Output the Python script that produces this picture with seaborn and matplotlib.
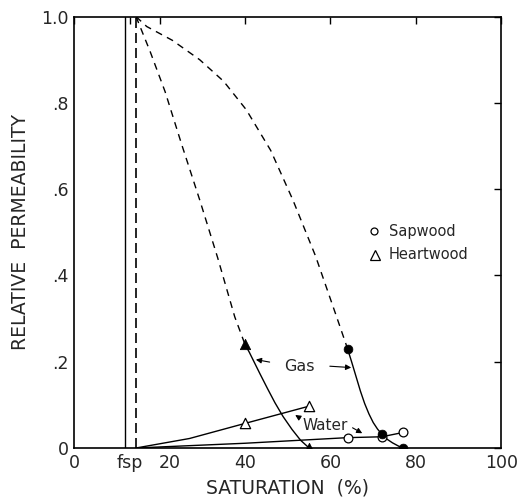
import matplotlib
matplotlib.use("Agg")
import matplotlib.pyplot as plt
import matplotlib.transforms as mtransforms
import seaborn as sns

# gas curves, dashed (extrapolated) part
gas_heart_dash_x = [14.5, 17.8, 21.3, 25.2, 29.4, 33.6, 37.6, 40.0]
gas_heart_dash_y = [1.0, 0.919, 0.826, 0.703, 0.575, 0.441, 0.304, 0.24]
gas_sap_dash_x = [14.5, 17.0, 23.0, 29.4, 35.0, 40.3, 46.0, 51.2, 56.5, 61.4, 64.0]
gas_sap_dash_y = [1.0, 0.977, 0.945, 0.90, 0.85, 0.784, 0.69, 0.575, 0.445, 0.305, 0.23]

# gas curves, measured part
gas_heart_x = [40.0, 41.0, 42.0, 43.5, 45.3, 47.0, 48.9, 51.0, 53.0, 55.0]
gas_heart_y = [0.24, 0.222, 0.202, 0.172, 0.137, 0.105, 0.073, 0.043, 0.018, 0.0]
gas_sap_x = [64.0, 65.0, 66.0, 67.0, 68.0, 69.0, 70.0, 71.0, 72.0, 73.0, 74.5, 76.0, 77.0]
gas_sap_y = [0.23, 0.198, 0.165, 0.132, 0.103, 0.079, 0.059, 0.044, 0.032, 0.022, 0.012, 0.004, 0.0]

# water curves
water_heart_x = [14.5, 27.0, 40.0, 55.0]
water_heart_y = [0.0, 0.022, 0.057, 0.097]
water_sap_x = [14.5, 40.0, 64.0, 72.0, 77.0]
water_sap_y = [0.0, 0.011, 0.024, 0.026, 0.036]

# measured points
gas_heart_pts_x = [40, 55]
gas_heart_pts_y = [0.24, 0.0]
gas_sap_pts_x = [64, 72, 77]
gas_sap_pts_y = [0.23, 0.032, 0.0]
water_heart_pts_x = [40, 55]
water_heart_pts_y = [0.057, 0.097]
water_sap_pts_x = [64, 72, 77]
water_sap_pts_y = [0.024, 0.026, 0.036]

fsp = 12.0
fsp_dash = 14.5

x_ticks = [0, 13, 20, 40, 60, 80, 100]
x_labels = ["0", "fsp", "20", "40", "60", "80", "100"]
y_ticks = [0, 0.2, 0.4, 0.6, 0.8, 1.0]
y_labels = ["0", ".2", ".4", ".6", ".8", "1.0"]

sns.set_style("white")
plt.rcParams["font.family"] = ["DejaVu Sans"]

fig = plt.figure(figsize=(5.18, 4.97), dpi=100)
ax = fig.add_axes([0.143, 0.0986, 0.825, 0.868])

lw = 1.0
dash = (0, (5, 4))
sns.lineplot(x=gas_heart_dash_x, y=gas_heart_dash_y, ax=ax, color="black",
             lw=lw, linestyle=dash, sort=False)
sns.lineplot(x=gas_sap_dash_x, y=gas_sap_dash_y, ax=ax, color="black",
             lw=lw, linestyle=dash, sort=False)
for xs, ys in [(gas_heart_x, gas_heart_y), (gas_sap_x, gas_sap_y),
               (water_heart_x, water_heart_y), (water_sap_x, water_sap_y)]:
    sns.lineplot(x=xs, y=ys, ax=ax, color="black", lw=lw, sort=False)

ax.plot([fsp, fsp], [0, 1], color="black", lw=lw)
ax.plot([fsp_dash, fsp_dash], [0, 1], color="black", lw=1.2, linestyle=(0, (6, 3)))

sns.scatterplot(x=gas_heart_pts_x, y=gas_heart_pts_y, ax=ax, marker="^", s=55,
                color="black", edgecolor="black", zorder=5)
sns.scatterplot(x=gas_sap_pts_x, y=gas_sap_pts_y, ax=ax, marker="o", s=40,
                color="black", edgecolor="black", zorder=5)
sns.scatterplot(x=water_heart_pts_x, y=water_heart_pts_y, ax=ax, marker="^", s=55,
                facecolor="white", edgecolor="black", linewidth=0.9, zorder=5)
sns.scatterplot(x=water_sap_pts_x, y=water_sap_pts_y, ax=ax, marker="o", s=40,
                facecolor="white", edgecolor="black", linewidth=0.9, zorder=4)

# legend drawn by hand
ax.plot([70.2], [0.502], marker="o", ms=5, mfc="white", mec="black", mew=0.9)
ax.plot([70.3], [0.448], marker="^", ms=6.5, mfc="white", mec="black", mew=0.9)
ax.text(73.6, 0.502, "Sapwood", fontsize=10.5, va="center", ha="left")
ax.text(73.6, 0.448, "Heartwood", fontsize=10.5, va="center", ha="left")

# annotations
ap = dict(arrowstyle="-|>", color="black", lw=0.8, mutation_scale=8)
ax.text(52.8, 0.188, "Gas", fontsize=11.5, ha="center", va="center")
ax.annotate("", xy=(41.9, 0.206), xytext=(46.4, 0.198), arrowprops=ap)
ax.annotate("", xy=(65.5, 0.186), xytext=(59.2, 0.19), arrowprops=ap)
ax.text(58.7, 0.053, "Water", fontsize=11, ha="center", va="center")
ax.annotate("", xy=(51.2, 0.08), xytext=(53.4, 0.066), arrowprops=ap)
ax.annotate("", xy=(68.0, 0.031), xytext=(64.6, 0.05), arrowprops=ap)

ax.set_xlim(0, 100)
ax.set_ylim(0, 1.0)
ax.set_xticks(x_ticks)
ax.set_xticklabels(x_labels, fontsize=12.5)
ax.set_yticks(y_ticks)
ax.set_yticklabels(y_labels, fontsize=12.5)
ax.tick_params(direction="in", top=True, right=True, length=5, width=1.0,
               color="black", pad=4)
# the "20" label sits a little right of its tick in the original
lab20 = ax.get_xticklabels()[2]
lab20.set_transform(lab20.get_transform()
                    + mtransforms.ScaledTranslation(7 / 72, 0, fig.dpi_scale_trans))
for s in ax.spines.values():
    s.set_color("black")
    s.set_linewidth(1.2)
ax.set_xlabel("SATURATION  (%)", fontsize=13.5, labelpad=5)
ax.set_ylabel("RELATIVE  PERMEABILITY", fontsize=13.5, labelpad=8)

fig.savefig("out.png", dpi=100)
